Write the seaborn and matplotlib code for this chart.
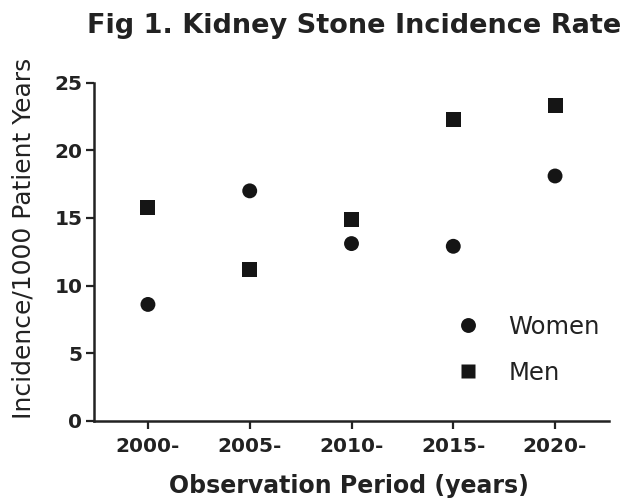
import matplotlib
matplotlib.use("Agg")
import matplotlib.pyplot as plt
import seaborn as sns
import pandas as pd

# Incidence per 1000 patient years by observation period
periods = ["2000-", "2005-", "2010-", "2015-", "2020-"]
women = [8.6, 17.0, 13.1, 12.9, 18.1]
men = [15.8, 11.2, 14.9, 22.3, 23.3]

df = pd.DataFrame({
    "period": periods * 2,
    "rate": women + men,
    "sex": ["Women"] * len(periods) + ["Men"] * len(periods),
})

sns.set_style("ticks")
plt.rcParams["font.family"] = ["DejaVu Sans"]
ink = "#222222"
mark = "#151515"

W, H = 623, 504
fig = plt.figure(figsize=(W / 100, H / 100), dpi=100)
ax = fig.add_axes([94 / W, 1 - 420.7 / H, (609 - 94) / W, (420.7 - 82.7) / H])

sns.scatterplot(
    data=df, x="period", y="rate", style="sex",
    markers={"Women": "o", "Men": "s"}, style_order=["Women", "Men"],
    color=mark, s=115, edgecolor="none", ax=ax,
)

ax.set_xlim(-0.53, 4.53)
ax.set_ylim(0, 25)
ax.set_yticks([0, 5, 10, 15, 20, 25])
sns.despine(ax=ax)
for side in ("left", "bottom"):
    ax.spines[side].set_linewidth(1.8)
    ax.spines[side].set_color(ink)
ax.tick_params(axis="both", length=5.5, width=1.6, color=ink,
               labelsize=14.5, labelcolor=ink)
ax.tick_params(axis="y", pad=3)
ax.tick_params(axis="x", pad=6)
for lab in ax.get_xticklabels() + ax.get_yticklabels():
    lab.set_fontweight("bold")

ax.set_xlabel("")
ax.set_ylabel("")
fig.text(349 / W, 1 - 486 / H, "Observation Period (years)", fontsize=17,
         fontweight="bold", color=ink, ha="center", va="center")
fig.text(24 / W, 1 - 238 / H, "Incidence/1000 Patient Years", fontsize=18,
         color=ink, ha="center", va="center", rotation=90)
fig.text(87 / W, 1 - 26 / H, "Fig 1. Kidney Stone Incidence Rate",
         fontsize=19.5, fontweight="bold", color=ink, ha="left", va="center")

leg = ax.legend(loc="upper left", bbox_to_anchor=(450 / W, 1 - 315 / H),
                bbox_transform=fig.transFigure, frameon=False,
                fontsize=17.5, handlelength=1.5, handletextpad=0.9,
                labelspacing=0.9, borderpad=0, borderaxespad=0)
for t in leg.get_texts():
    t.set_color(ink)

fig.savefig("out.png", dpi=100)
